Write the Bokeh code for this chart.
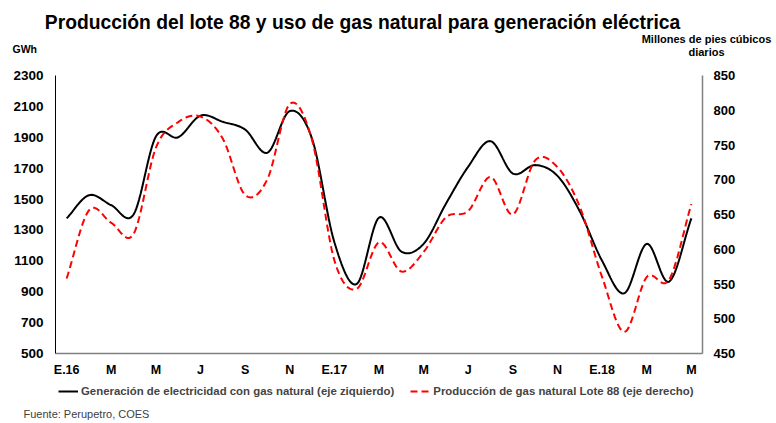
import numpy as np
from bokeh.plotting import figure
from bokeh.models import Range1d, LinearAxis, FixedTicker, Label, Legend, LegendItem
from bokeh.embed import file_html
from bokeh.resources import INLINE

# ---------------- data ----------------
month_idx = list(range(29))  # Jan 2016 .. May 2018
tick_pos = [0, 2, 4, 6, 8, 10, 12, 14, 16, 18, 20, 22, 24, 26, 28]
tick_labels = ["E.16", "M", "M", "J", "S", "N", "E.17", "M", "M", "J", "S", "N", "E.18", "M", "M"]

# Generación de electricidad con gas natural (GWh, eje izquierdo)
generacion = [1375, 1525, 1460, 1400, 1905, 1900, 2040, 2000, 1950, 1800, 2070, 1890,
              1220, 950, 1380, 1160, 1210, 1470, 1710, 1875, 1665, 1720, 1650, 1420,
              1100, 890, 1210, 965, 1375]
# Producción de gas natural Lote 88 (MMPCD, eje derecho)
produccion = [558, 656, 638, 622, 746, 783, 791, 759, 678, 701, 809, 757,
              584, 543, 610, 568, 596, 646, 655, 704, 650, 728, 718, 661,
              560, 481, 560, 556, 665]

left_ticks = [500, 700, 900, 1100, 1300, 1500, 1700, 1900, 2100, 2300]
right_ticks = [450, 500, 550, 600, 650, 700, 750, 800, 850]

FONT = "Liberation Sans"


def smooth(xs, ys, n=16):
    """Catmull-Rom spline through the points (like Excel's smoothed line)."""
    xs = np.asarray(xs, float)
    ys = np.asarray(ys, float)
    px = np.concatenate([[2 * xs[0] - xs[1]], xs, [2 * xs[-1] - xs[-2]]])
    py = np.concatenate([[2 * ys[0] - ys[1]], ys, [2 * ys[-1] - ys[-2]]])
    ox, oy = [], []
    t = np.linspace(0, 1, n, endpoint=False)
    for i in range(1, len(px) - 2):
        for arr, out in ((px, ox), (py, oy)):
            p0, p1, p2, p3 = arr[i - 1], arr[i], arr[i + 1], arr[i + 2]
            out.extend(0.5 * ((2 * p1) + (-p0 + p2) * t + (2 * p0 - 5 * p1 + 4 * p2 - p3) * t ** 2
                              + (-p0 + 3 * p1 - 3 * p2 + p3) * t ** 3))
    ox.append(xs[-1])
    oy.append(ys[-1])
    return ox, oy


# ---------------- geometry (pixels of the page) ----------------
W, H = 776, 423
PL, PR, PT, PB = 55, 702, 75, 353        # plotting area: left/right/top/bottom
XD = (-0.5, 28.5)                         # x data span of the plotting area
YL = (500, 2300)
YR = (450, 850)


def span(d0, d1, p0, p1, q0, q1):
    """data range that maps pixel p0->d0, p1->d1 and extends to pixels q0..q1"""
    k = (d1 - d0) / (p1 - p0)
    return d0 + (q0 - p0) * k, d0 + (q1 - p0) * k


x_start, x_end = span(XD[0], XD[1], PL, PR, 0, W)
yl_start, yl_end = span(YL[0], YL[1], PB, PT, H, 0)
yr_start, yr_end = span(YR[0], YR[1], PB, PT, H, 0)

p = figure(width=W, height=H, output_backend="svg", toolbar_location=None,
           x_range=Range1d(x_start, x_end), y_range=Range1d(yl_start, yl_end),
           x_axis_location=None, y_axis_location=None,
           min_border_left=0, min_border_right=0, min_border_top=0, min_border_bottom=0)
p.extra_y_ranges = {"right": Range1d(yr_start, yr_end)}
p.grid.visible = False
p.outline_line_color = None
p.background_fill_color = "white"
p.border_fill_color = "white"

# axes (fixed at the plotting-area edges)
ax_l = LinearAxis(ticker=FixedTicker(ticks=left_ticks), fixed_location=XD[0], bounds=YL)
ax_r = LinearAxis(ticker=FixedTicker(ticks=right_ticks), y_range_name="right",
                  fixed_location=XD[1], bounds=YR)
ax_b = LinearAxis(ticker=FixedTicker(ticks=tick_pos), fixed_location=YL[0], bounds=XD,
                  major_label_overrides={pos: lab for pos, lab in zip(tick_pos, tick_labels)})
for ax in (ax_l, ax_r, ax_b):
    ax.major_tick_line_color = None
    ax.minor_tick_line_color = None
    ax.major_tick_out = 0
    ax.major_tick_in = 0
    ax.major_label_text_font = FONT
    ax.major_label_text_font_style = "bold"
    ax.major_label_text_color = "black"
ax_l.axis_line_color = "black"
ax_l.axis_line_width = 1
ax_l.major_label_text_font_size = "13.5px"
ax_l.major_label_standoff = 12
ax_r.axis_line_color = "#808080"
ax_r.axis_line_width = 1.5
ax_r.major_label_text_font_size = "13px"
ax_r.major_label_standoff = 11
ax_b.axis_line_color = "#808080"
ax_b.axis_line_width = 1.5
ax_b.major_label_text_font_size = "12.5px"
ax_b.major_label_standoff = 9
p.add_layout(ax_l, "left")
p.add_layout(ax_r, "right")
p.add_layout(ax_b, "below")

# lines
gx, gy = smooth(month_idx, generacion)
rx, ry = smooth(month_idx, produccion)
r_gen = p.line(gx, gy, line_color="black", line_width=2)
r_gas = p.line(rx, ry, line_color="#ff0000", line_width=2, line_dash="7 4",
               y_range_name="right")

LH = 14
legend = Legend(items=[
    LegendItem(label="Generación de electricidad con gas natural (eje ziquierdo)", renderers=[r_gen]),
    LegendItem(label="Producción de gas natural Lote 88 (eje derecho)", renderers=[r_gas]),
], orientation="horizontal", padding=0, margin=0, spacing=16,
    location=(58, H - (391 + LH / 2)),
    label_standoff=3, glyph_width=20, glyph_height=LH, label_height=LH,
    label_text_font=FONT, label_text_font_style="bold", label_text_font_size="11.4px",
    border_line_color=None, background_fill_alpha=0)
p.add_layout(legend, "center")


def px2x(px):
    return x_start + px * (x_end - x_start) / W


def py2y(py):
    return yl_end - py * (yl_end - yl_start) / H


def txt(text, px, py, size, style="bold", align="left", color="black", baseline="middle"):
    p.add_layout(Label(x=px2x(px), y=py2y(py), text=text, text_font=FONT,
                       text_font_size=size, text_font_style=style, text_align=align,
                       text_baseline=baseline, text_color=color))


txt("Producción del lote 88 y uso de gas natural para generación eléctrica", 362, 22, "19.3px", align="center")
txt("GWh", 12, 48, "10.5px")
txt("Millones de pies cúbicos", 706, 38, "11px", align="center")
txt("diarios", 706, 51, "11px", align="center")
txt("Fuente: Perupetro, COES", 23, 419, "11px", style="normal", color="#404040",
    baseline="bottom")

open("out.html", "w").write(file_html(p, INLINE))
